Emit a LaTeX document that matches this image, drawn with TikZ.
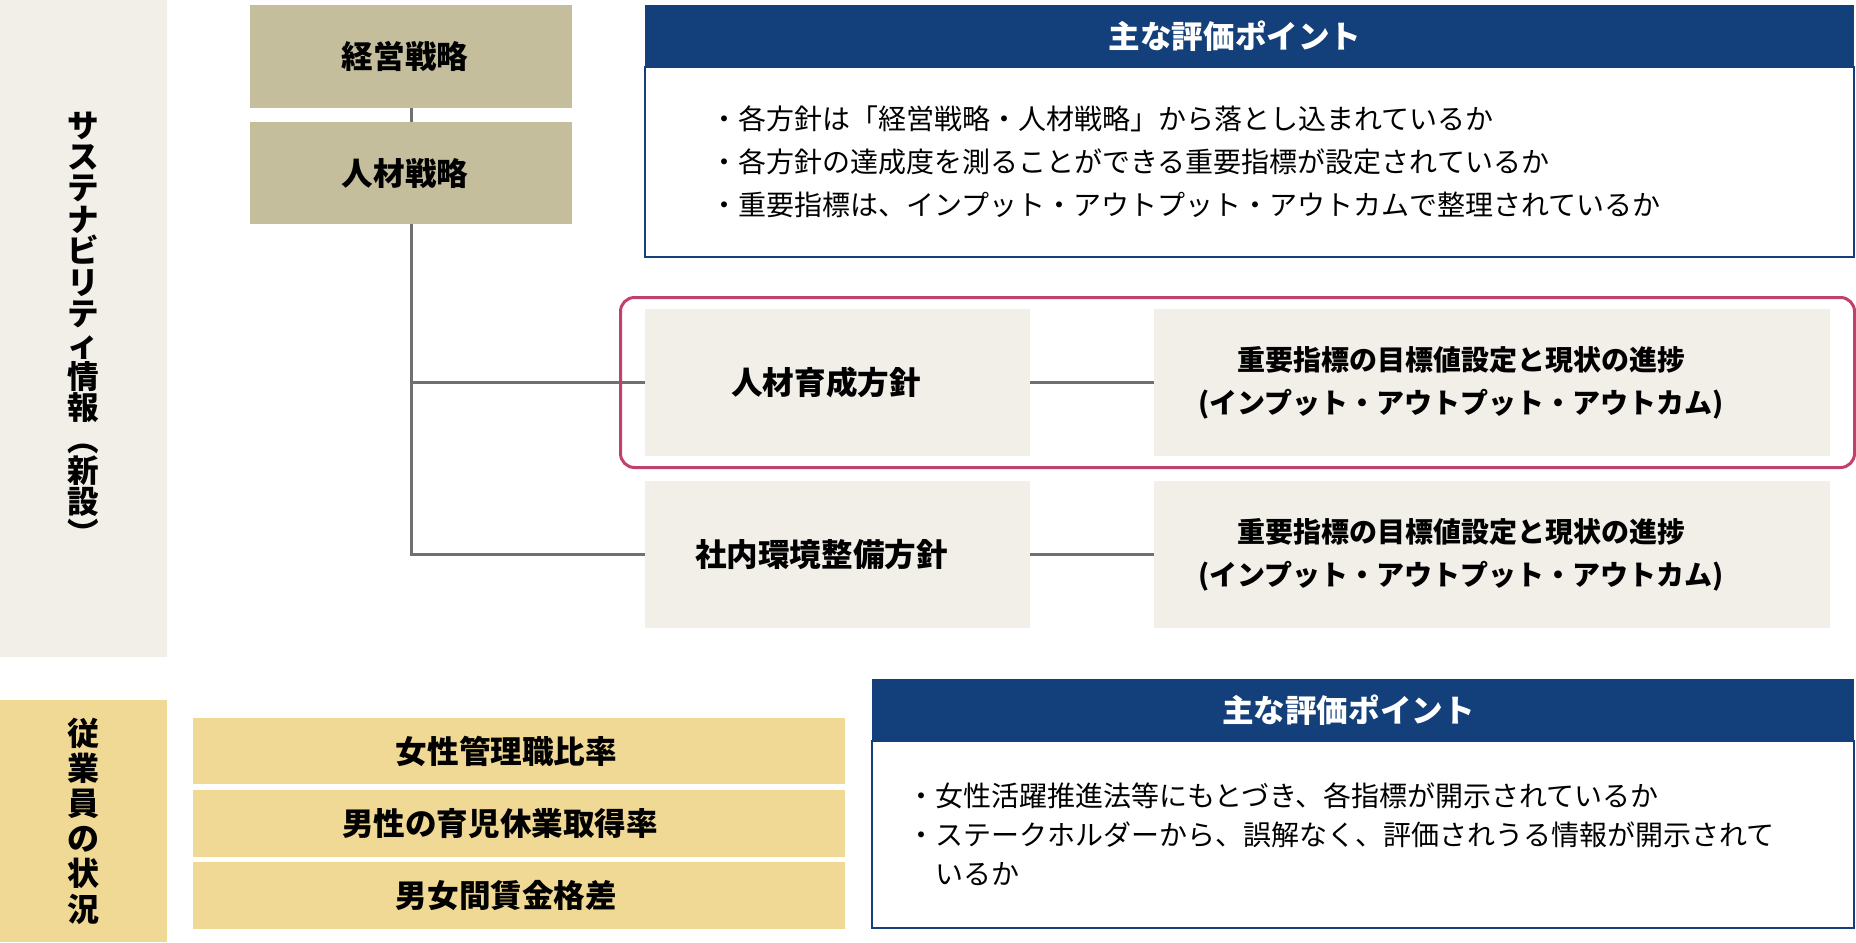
\documentclass[tikz,border=0pt]{standalone}
\usepackage{fontspec}
\setmainfont{Noto Sans CJK JP}
\usepackage{tikz}
\usetikzlibrary{fit}
\usetikzlibrary{positioning}
\usepackage{xcolor}
\definecolor{panelgray}{HTML}{F2EFE9}
\definecolor{khaki}{HTML}{C4BE9C}
\definecolor{navy}{HTML}{133F7A}
\definecolor{rose}{HTML}{C0426C}
\definecolor{sand}{HTML}{F0D895}
\definecolor{wiregray}{HTML}{707070}
\tikzset{
  side panel/.style={
          anchor=north west, inner sep=0pt, outer sep=0pt, align=center,
          minimum width=83.5pt, font=\fontsize{15.8}{15.7}\selectfont\bfseries
          },
  nudge/.style={execute at begin node={\hspace*{-#1}}, execute at end node={\hspace*{#1}}}, % text sits a bit left of the box centre
  strategy/.style={fill=khaki, minimum width=161pt, minimum height=51.3pt, outer sep=0pt, nudge=3pt,
          font=\fontsize{15.8}{19}\selectfont\bfseries},
  policy/.style={fill=panelgray, minimum width=192.5pt, minimum height=73.5pt, outer sep=0pt,
          font=\fontsize{15.8}{19}\selectfont\bfseries},
  kpi/.style={fill=panelgray, minimum width=338pt, minimum height=73.5pt, outer sep=0pt},
  kpi text/.style={inner sep=0pt, align=center, font=\fontsize{14}{21.5}\selectfont\bfseries},
  metric/.style={fill=sand, minimum width=326pt, minimum height=33.35pt, outer sep=0pt,
          font=\fontsize{15.8}{19}\selectfont\bfseries},
  eval head/.style={fill=navy, text=white, minimum height=31pt, outer sep=0pt, inner sep=0pt, nudge=7.25pt,
          font=\fontsize{15.8}{19}\selectfont\bfseries},
  eval body/.style={draw=navy, line width=1pt, outer sep=0pt, inner sep=0pt},
  eval text/.style={inner sep=0pt, align=left},
  wire/.style={draw=wiregray, line width=1.5pt},
  highlight/.style={draw=rose, line width=1.5pt, rounded corners=7pt, inner xsep=12.25pt, inner ysep=5.75pt},
}

\begin{document}
\begin{tikzpicture}[x=0.5pt, y=-0.5pt]
      \useasboundingbox (0,0) rectangle (1856,942);

      % SIDE PANELS
      \node[side panel, fill=panelgray, minimum height=328.5pt] (sust) at (0,0)
        {サ\\ス\\テ\\ナ\\ビ\\リ\\テ\\ィ\\情\\報\\︵\\新\\設\\︶};
      \node[side panel, fill=sand, minimum height=121pt, font=\fontsize{16}{17.6}\selectfont\bfseries] (emp) at (0,700)
        {従\\業\\員\\の\\状\\況};

      % STRATEGY
      \node[strategy] (keiei) at (411,56.5) {経営戦略};
      \node[strategy, below=7pt of keiei] (jinzai) {人材戦略};

      % POLICIES AND KPIS
      \node[policy, nudge=5.75pt] (ikusei) at (837.5,382.5) {人材育成方針};
      \node[kpi, right=62pt of ikusei] (kpi1) {};
      \node[kpi text] (kpi1text) at ([xshift=-15.5pt]kpi1.center)
        {重要指標の目標値設定と現状の進捗\\(インプット・アウトプット・アウトカム)};
      \node[policy, nudge=8pt, below=12.5pt of ikusei] (kankyo) {社内環境整備方針};
      \node[kpi, right=62pt of kankyo] (kpi2) {};
      \node[kpi text] (kpi2text) at ([xshift=-15.5pt]kpi2.center)
        {重要指標の目標値設定と現状の進捗\\(インプット・アウトプット・アウトカム)};

      % WIRING
      \draw[wire] (keiei) -- (jinzai);
      \draw[wire] (jinzai.south) |- (ikusei.west);
      \draw[wire] (jinzai.south) |- (kankyo.west);
      \draw[wire] (ikusei) -- (kpi1);
      \draw[wire] (kankyo) -- (kpi2);

      \node[highlight, fit=(ikusei)(kpi1)] (focus) {};

      % EVALUATION POINTS (TOP)
      \node[eval head, minimum width=604.5pt] (evalA) at (1249.5,36) {主な評価ポイント};
      \node[eval body, minimum width=604.5pt, minimum height=95pt, below=0pt of evalA] (evalAbody) {};
      \node[eval text, font=\fontsize{14}{21.5}\selectfont, right=32.5pt of evalAbody.west] (evalAtext)
        {・各方針は「経営戦略・人材戦略」から落とし込まれているか\\
         ・各方針の達成度を測ることができる重要指標が設定されているか\\
         ・重要指標は、インプット・アウトプット・アウトカムで整理されているか};

      % EMPLOYEE METRICS
      \node[metric, nudge=6.25pt] (m1) at (519,751) {女性管理職比率};
      \node[metric, nudge=9.5pt, below=2.75pt of m1] (m2) {男性の育児休業取得率};
      \node[metric, nudge=6.25pt, below=2.75pt of m2] (m3) {男女間賃金格差};

      % EVALUATION POINTS (BOTTOM)
      \node[eval head, minimum width=491pt] (evalB) at (1363,710) {主な評価ポイント};
      \node[eval body, minimum width=491pt, minimum height=93.5pt, below=0pt of evalB] (evalBbody) {};
      \node[eval text, font=\fontsize{14}{19.5}\selectfont, right=17.5pt of evalBbody.west] (evalBtext)
        {・女性活躍推進法等にもとづき、各指標が開示されているか\\
         ・ステークホルダーから、誤解なく、評価されうる情報が開示されて\\
         \hspace*{1em}いるか};
\end{tikzpicture}
\end{document}
